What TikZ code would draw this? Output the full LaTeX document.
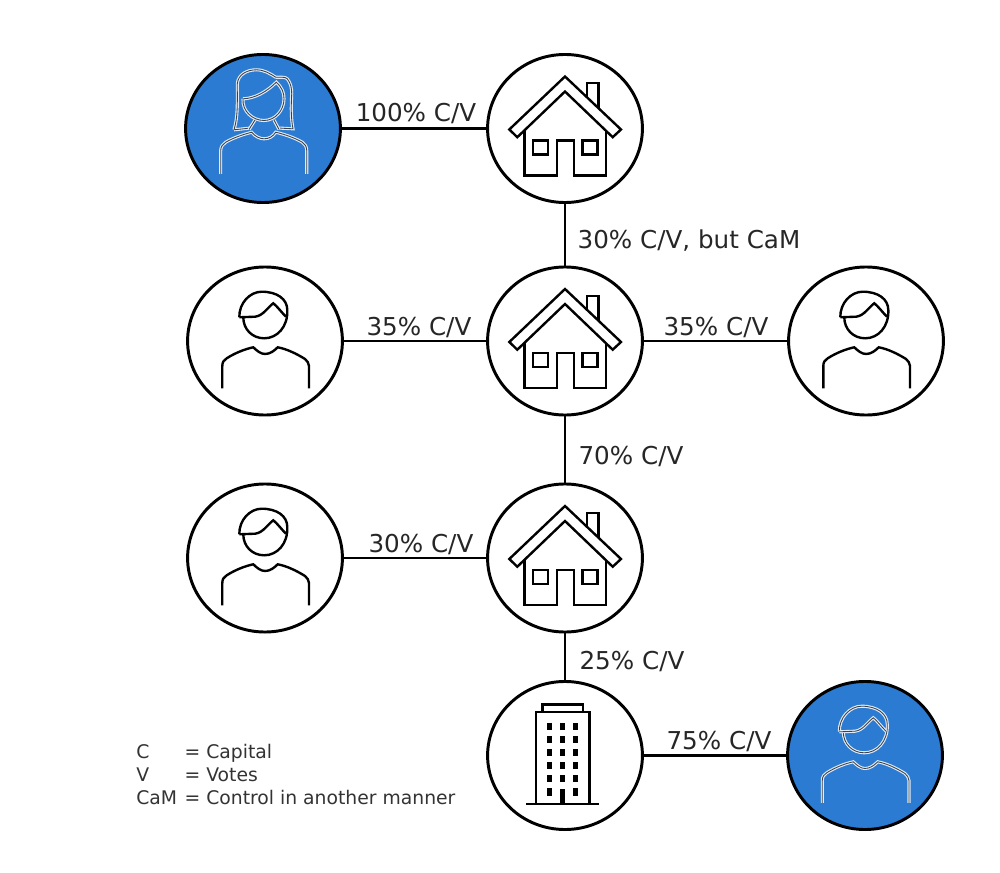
\documentclass[tikz,border=0pt]{standalone}
\usepackage{fontspec}
\setmainfont{DejaVu Sans}
\usetikzlibrary{calc, positioning, shapes.geometric}
\definecolor{ownerblue}{HTML}{2B7BD2}
\tikzset{
    party/.style={draw=black, ellipse, fill=white, line width=2.1pt, minimum width=3.87cm, minimum height=3.7cm, inner sep=0pt},
    owner/.style={party, fill=ownerblue},
    share/.style={font=\fontsize{17.5}{20}\selectfont, text=black!85, inner sep=0pt},
    link/.style={draw=black, line width=2.1pt},
    iconline/.style={draw=black, line width=1.7pt, line join=miter},
    iconhalo/.style={draw=white!85!ownerblue, line width=0.8pt, double=black!75, double distance=0.6pt},
    pics/manicon/.style={code={
        \draw[#1] (-25.7,-23.7) .. controls (-26,-38) and (-15,-49.3) .. (-3.3,-49.3)
            .. controls (12,-49.3) and (22.3,-42) .. (22.3,-31)
            .. controls (23,-14) and (12,-2.7) .. (-0.7,-2.7)
            .. controls (-13,-2.7) and (-21.7,-12) .. (-21.7,-23.5);
        \draw[#1] (-25.7,-23.7) -- (-10,-24.3) .. controls (-2,-25) and (3,-34) .. (8.3,-37.7)
            .. controls (12,-35) and (17,-28) .. (21,-24.3);
        \draw[#1] (-42.7,47.3) -- (-42.7,25) .. controls (-42.7,21) and (-41,19) .. (-38.3,17.3)
            .. controls (-30,12) and (-20,8) .. (-11.7,6.3)
            .. controls (-8,10) and (-4,13) .. (0,13)
            .. controls (5,13) and (9,10) .. (12.7,6.3)
            .. controls (22,8) and (32,13) .. (40,18)
            .. controls (42,20) and (44,22) .. (44,25) -- (44,47.3);
    }},
    pics/womanicon/.style={code={
        \draw[#1] (-29,1.3) .. controls (-25,-12) and (-25.7,-25) .. (-25.7,-44.7)
            .. controls (-25,-54) and (-16,-58.7) .. (-6.7,-58.7)
            .. controls (1,-58.7) and (7,-55) .. (12.7,-51.3)
            .. controls (17,-51) and (22,-52) .. (24.3,-49.7)
            .. controls (28,-45) and (28.7,-40) .. (28.7,-34.7)
            .. controls (28,-20) and (28,-10) .. (30,0.3)
            -- (15,-0.5) (-29,1.3) -- (-12,-0.5);
        \draw[#1] (-20,-29.7) .. controls (-8,-30) and (4,-37) .. (13.3,-46.3)
            .. controls (19,-41) and (21,-36) .. (21,-29.7)
            .. controls (21,-18) and (12,-8) .. (1,-8)
            .. controls (-10,-8) and (-21,-17) .. (-20,-29.7);
        \draw[#1] (-8,-8.5) -- (-14,1) (11,-8.5) -- (16,1);
        \draw[#1] (-42.3,45.3) -- (-42.3,22) .. controls (-42.3,18) and (-40,15.5) .. (-37.3,13.7)
            .. controls (-29,9) and (-20,6) .. (-11.3,3.7)
            .. controls (-8,8) and (-3,10.3) .. (1,10.3)
            .. controls (6,10.3) and (10,8) .. (12.7,3.7)
            .. controls (22,6) and (31,9) .. (39.3,13.7)
            .. controls (42,15.5) and (43.7,18) .. (43.7,22) -- (43.7,45.3);
    }},
    pics/houseicon/.style={code={
        \draw[iconline] (0,-52) -- (56,1) -- (47.7,8.7) -- (0,-37) -- (-47.7,8.7) -- (-55.7,1) -- cycle;
        \draw[iconline] (21.7,-31.5) -- (21.7,-45.3) -- (33.3,-45.3) -- (33.3,-20.5);
        \draw[iconline] (-40.7,2) -- (-40.7,47) -- (-8.3,47) -- (-8.3,12) -- (9,12) -- (9,47) -- (40.7,47) -- (40.7,2);
        \draw[iconline] (-32.3,12) rectangle (-17.3,26);
        \draw[iconline] (17.3,12) rectangle (32.3,26);
    }},
    pics/towericon/.style={code={
        \draw[iconline] (-29,48.3) -- (-29,-43.3) -- (24.3,-43.3) -- (24.3,48.3);
        \draw[iconline] (-39,48.3) -- (34,48.3);
        \draw[iconline] (-22.7,-43.3) -- (-22.7,-51) -- (17.7,-51) -- (17.7,-43.3);
        \foreach \wx in {-15.3,-2.3,10.7} {
            \foreach \wy in {-28.7,-15.7,-3,10,23} {
                \fill (\wx-2.5,\wy-3.6) rectangle (\wx+2.5,\wy+3.6);
            }
        }
        \fill (-17.8,32.7) rectangle (-12.8,40);
        \fill (8.2,32.7) rectangle (13.2,40);
        \fill (-4.8,33.3) rectangle (0.2,48.3);
    }}
}
\begin{document}
\begin{tikzpicture}[x=0.025cm, y=-0.025cm]
\useasboundingbox (0,0) rectangle (1000,873);

% Parties
\node[owner] (woman) at (263,128.5) {};
\node[party] (housetop) at (565,128.5) {};
\node[party] (manleft) at (265,341) {};
\node[party] (housemid) at (565,341) {};
\node[party] (manright) at (866,341) {};
\node[party] (manlow) at (265,558) {};
\node[party] (houselow) at (565,558) {};
\node[party] (tower) at (565,755.5) {};
\node[owner] (manowner) at (865,755.5) {};

% Icons
\pic at (woman) {womanicon=iconhalo};
\pic at (housetop) {houseicon};
\pic at (manleft) {manicon=iconline};
\pic at (housemid) {houseicon};
\pic at (manright) {manicon=iconline};
\pic at (manlow) {manicon=iconline};
\pic at (houselow) {houseicon};
\pic at (tower) {towericon};
\pic at (manowner) {manicon=iconhalo};

% Links
\draw[link] (woman) -- (housetop);
\draw[link] (housetop) -- (housemid);
\draw[link] (manleft) -- (housemid);
\draw[link] (housemid) -- (manright);
\draw[link] (housemid) -- (houselow);
\draw[link] (manlow) -- (houselow);
\draw[link] (houselow) -- (tower);
\draw[link] (tower) -- (manowner);

% Shares
\node[share] (sharewoman) at (416,114) {100\% C/V};
\node[share] (sharetop) at (689,241) {30\% C/V, but CaM};
\node[share] (shareleft) at (419,328) {35\% C/V};
\node[share] (shareright) at (716,328) {35\% C/V};
\node[share] (sharemid) at (631,457) {70\% C/V};
\node[share] (sharelow) at (421,545) {30\% C/V};
\node[share] (sharetower) at (632,662) {25\% C/V};
\node[share] (shareowner) at (719,742) {75\% C/V};

% Legend
\node[anchor=west, inner sep=0pt, text=black!80, font=\fontsize{13.35}{16.2}\selectfont] (legend) at (136,777) {%
    \begin{tabular}{@{}l@{\hspace{0.4em}}l@{}}
    C & = Capital\\
    V & = Votes\\
    CaM & = Control in another manner
    \end{tabular}};
\end{tikzpicture}
\end{document}
